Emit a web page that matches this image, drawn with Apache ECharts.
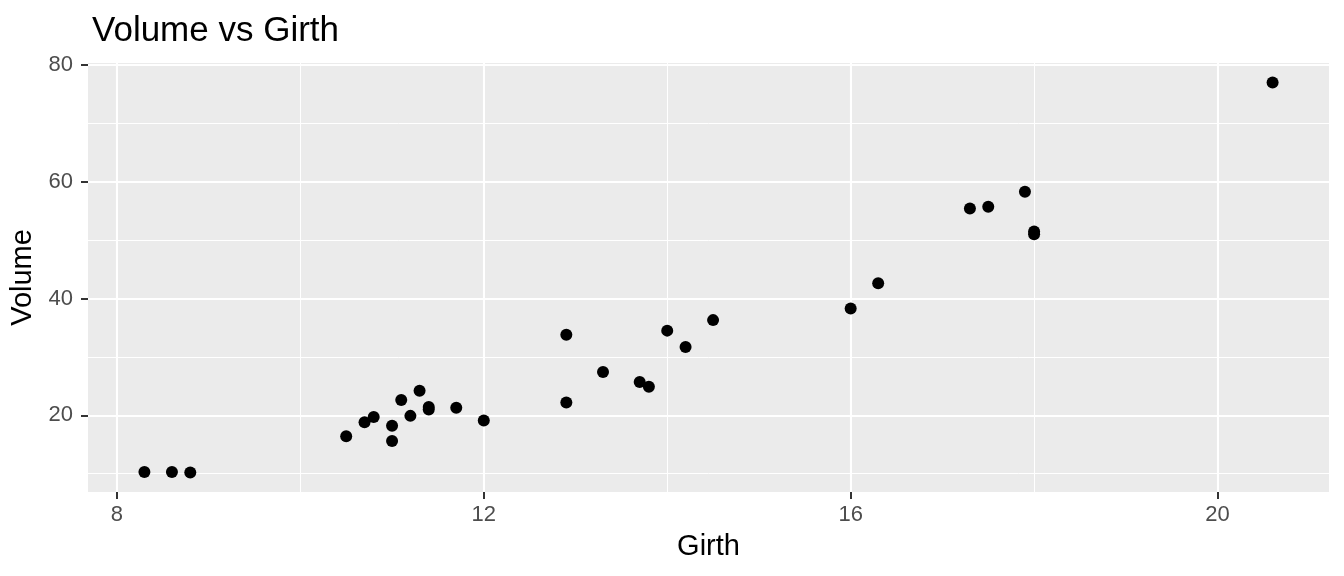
<!DOCTYPE html>
<html>
<head>
<meta charset="utf-8">
<script src="https://cdn.jsdelivr.net/npm/echarts@6/dist/echarts.min.js"></script>
<style>
html,body{margin:0;padding:0;background:#fff;}
#chart{width:1344px;height:576px;}
</style>
</head>
<body>
<div id="chart"></div>
<script>
const girth = [8.3, 8.6, 8.8, 10.5, 10.7, 10.8, 11.0, 11.0, 11.1, 11.2, 11.3, 11.4, 11.4, 11.7, 12.0, 12.9, 12.9, 13.3, 13.7, 13.8, 14.0, 14.2, 14.5, 16.0, 16.3, 17.3, 17.5, 17.9, 18.0, 18.0, 20.6];
const volume = [10.3, 10.3, 10.2, 16.4, 18.8, 19.7, 15.6, 18.2, 22.6, 19.9, 24.2, 21.0, 21.4, 21.3, 19.1, 22.2, 33.8, 27.4, 25.7, 24.9, 34.5, 31.7, 36.3, 38.3, 42.6, 55.4, 55.7, 58.3, 51.5, 51.0, 77.0];
const xTicks = [8, 12, 16, 20];
const yTicks = [20, 40, 60, 80];
const xMinor = [10, 14, 18];
const yMinor = [10, 30, 50, 70];
const titleText = 'Volume vs Girth';
const xName = 'Girth';
const yName = 'Volume';

const xMin = 8.3 - 0.05 * (20.6 - 8.3);
const xMax = 20.6 + 0.05 * (20.6 - 8.3);
const yMin = 10.2 - 0.05 * (77.0 - 10.2);
const yMax = 77.0 + 0.05 * (77.0 - 10.2);

const FONT = '"Liberation Sans", Arial, Helvetica, sans-serif';
const points = girth.map((g, i) => [g, volume[i]]);

const gridLines = [];
xMinor.forEach(v => gridLines.push({xAxis: v, lineStyle: {color: '#fff', width: 1, type: 'solid'}}));
yMinor.forEach(v => gridLines.push({yAxis: v, lineStyle: {color: '#fff', width: 1, type: 'solid'}}));
xTicks.forEach(v => gridLines.push({xAxis: v, lineStyle: {color: '#fff', width: 2.1, type: 'solid'}}));
yTicks.forEach(v => gridLines.push({yAxis: v, lineStyle: {color: '#fff', width: 2.1, type: 'solid'}}));

const chart = echarts.init(document.getElementById('chart'), null, {renderer: 'canvas'});
chart.setOption({
  animation: false,
  backgroundColor: '#fff',
  title: {
    text: titleText,
    left: 87,
    top: 9,
    textStyle: {fontFamily: FONT, fontSize: 35, fontWeight: 'normal', color: '#000'}
  },
  grid: {
    left: 88, right: 15, top: 63, bottom: 84,
    outerBoundsMode: 'none', containLabel: false,
    show: true, backgroundColor: '#EBEBEB', borderWidth: 0
  },
  xAxis: {
    type: 'value', min: xMin, max: xMax,
    name: xName, nameLocation: 'middle', nameGap: 40,
    nameTextStyle: {fontFamily: FONT, fontSize: 29, color: '#000'},
    axisLine: {show: false},
    axisTick: {show: true, customValues: xTicks, length: 7, lineStyle: {color: '#333', width: 2}},
    axisLabel: {customValues: xTicks, fontFamily: FONT, fontSize: 22, color: '#4D4D4D', margin: 12},
    splitLine: {show: false}
  },
  yAxis: {
    type: 'value', min: yMin, max: yMax,
    name: yName, nameLocation: 'middle', nameGap: 47,
    nameTextStyle: {fontFamily: FONT, fontSize: 29, color: '#000'},
    axisLine: {show: false},
    axisTick: {show: true, customValues: yTicks, length: 7, lineStyle: {color: '#333', width: 2}},
    axisLabel: {customValues: yTicks, fontFamily: FONT, fontSize: 22, color: '#4D4D4D', margin: 15},
    splitLine: {show: false}
  },
  series: [
    {
      type: 'scatter', data: [], z: 1, silent: true,
      markLine: {silent: true, z: 1, symbol: ['none', 'none'], label: {show: false}, animation: false, data: gridLines}
    },
    {
      type: 'scatter', data: points, z: 10,
      symbol: 'circle', symbolSize: 12,
      itemStyle: {color: '#000', opacity: 1}
    }
  ]
});
</script>
</body>
</html>
